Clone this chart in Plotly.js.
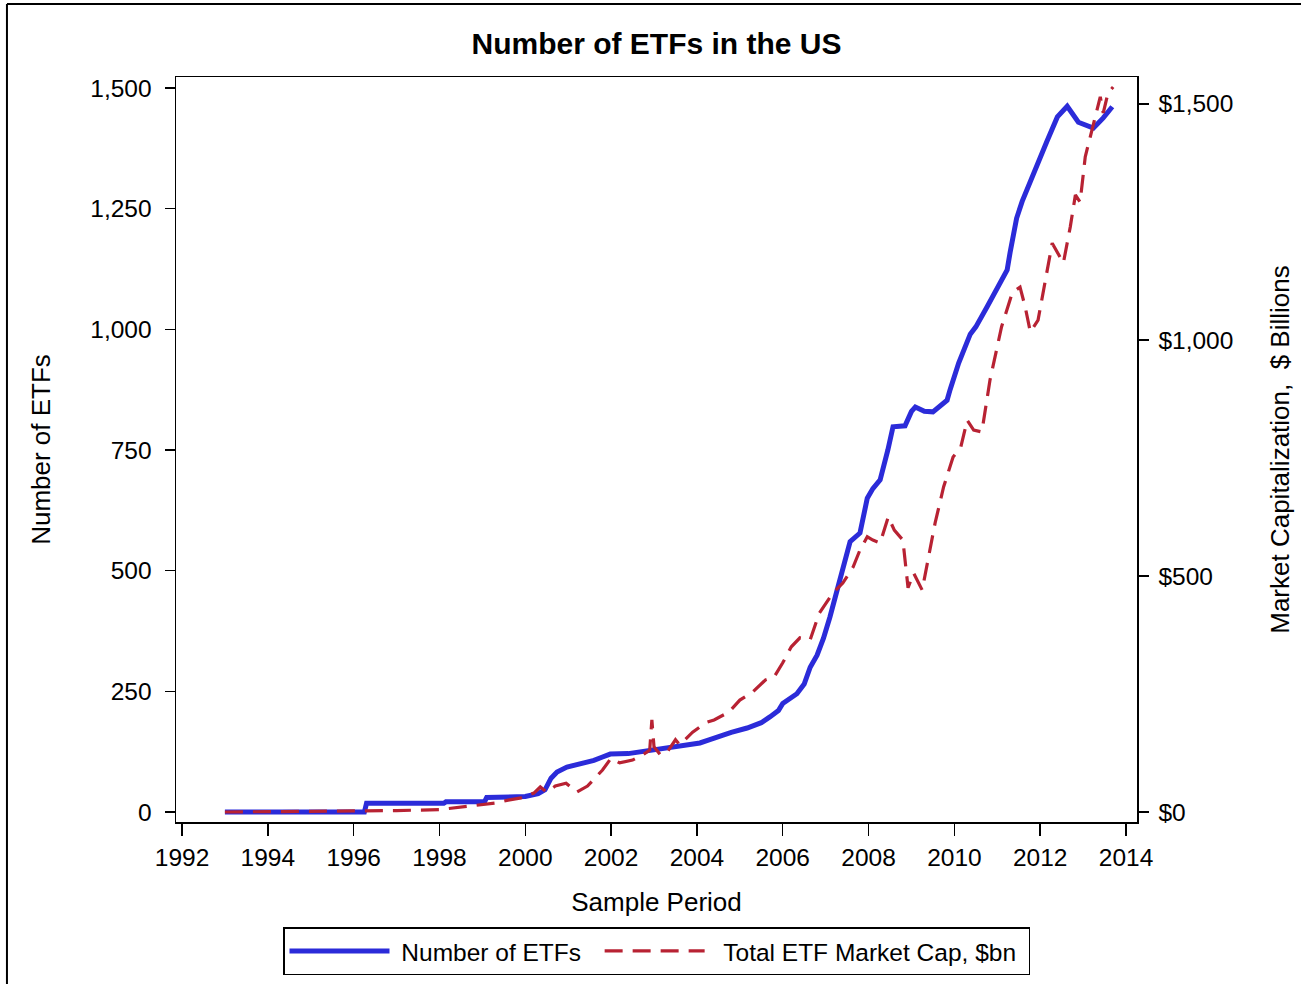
<!DOCTYPE html>
<html>
<head>
<meta charset="utf-8">
<script src="https://cdn.plot.ly/plotly-3.0.1.min.js"></script>
<style>html,body{margin:0;padding:0;background:#fff;}#chart{width:1301px;height:984px;}</style>
</head>
<body>
<div id="chart"></div>
<script>
// Number of ETFs (left axis)
const etfDates = [1993.0,1996.25,1996.3,1998.1,1998.15,1999.05,1999.1,2000.0,2000.3,2000.46,2000.6,2000.74,2000.97,2001.3,2001.6,2001.8,2001.98,2002.4,2002.74,2003.0,2003.3,2003.7,2004.07,2004.3,2004.46,2004.8,2005.17,2005.5,2005.7,2005.9,2006.0,2006.17,2006.33,2006.5,2006.64,2006.8,2006.95,2007.1,2007.29,2007.45,2007.57,2007.8,2007.97,2008.1,2008.27,2008.45,2008.57,2008.85,2009.0,2009.09,2009.3,2009.5,2009.7,2009.83,2009.9,2010.1,2010.37,2010.5,2010.76,2010.9,2011.1,2011.23,2011.3,2011.45,2011.58,2011.8,2012.0,2012.16,2012.4,2012.63,2012.89,2013.24,2013.47,2013.68];
const etfCount = [0,0,18,18,21,21,30,32,38,46,70,83,93,100,107,114,120,121,125,128,134,138,143,150,155,165,174,185,197,210,225,234,245,265,300,325,360,404,466,520,560,578,650,670,688,750,798,800,830,839,830,829,845,853,875,930,990,1005,1046,1070,1100,1123,1160,1230,1265,1310,1351,1390,1440,1462,1429,1417,1438,1461];

// Total ETF market cap, $bn (right axis)
const capDates = [1993.0,1996.0,1997.0,1998.0,1998.5,1999.0,1999.3,1999.6,1999.9,2000.2,2000.35,2000.5,2000.7,2000.95,2001.2,2001.45,2001.8,2002.0,2002.2,2002.5,2002.74,2002.9,2002.95,2003.0,2003.15,2003.3,2003.5,2003.6,2003.9,2004.2,2004.4,2004.75,2005.0,2005.3,2005.6,2005.8,2006.0,2006.2,2006.4,2006.64,2006.85,2007.17,2007.4,2007.64,2007.8,2007.97,2008.1,2008.27,2008.46,2008.6,2008.8,2008.92,2009.05,2009.25,2009.4,2009.55,2009.75,2009.97,2010.15,2010.3,2010.45,2010.64,2010.83,2011.1,2011.35,2011.53,2011.65,2011.77,2011.95,2012.16,2012.28,2012.54,2012.7,2012.82,2012.93,2013.05,2013.24,2013.4,2013.47,2013.58,2013.7];
const capValues = [0,1,3,5,10,15,19,25,30,40,53,42,55,61,42,55,89,114,104,110,121,131,195,138,121,126,153,142,169,189,195,212,237,254,280,286,316,350,369,365,421,464,485,519,555,583,576,570,625,597,576,475,506,470,540,612,689,752,773,830,809,805,915,1028,1100,1112,1070,1017,1042,1142,1205,1163,1239,1307,1292,1388,1460,1515,1481,1523,1536];

const xTicks = [1992,1994,1996,1998,2000,2002,2004,2006,2008,2010,2012,2014];
const leftTicks = [0,250,500,750,1000,1250,1500];
const leftTickText = ['0','250','500','750','1,000','1,250','1,500'];
const rightTicks = [0,500,1000,1500];
const rightTickText = ['$0','$500','$1,000','$1,500'];

const font = 'Liberation Sans, Arial, sans-serif';
const tickSize = 24.5;
const titleSize = 26;
const NB = '\u00a0';

const traces = [
  {x: etfDates, y: etfCount, type: 'scatter', mode: 'lines', name: NB + 'Number of ETFs' + NB + NB,
   line: {color: '#2b2bd9', width: 5}, yaxis: 'y'},
  {x: capDates, y: capValues, type: 'scatter', mode: 'lines', name: NB + NB + 'Total ETF Market Cap, $bn' + NB,
   line: {color: '#b82233', width: 3.2, dash: '18px,10px'}, yaxis: 'y2'}
];

const layout = {
  width: 1301, height: 984,
  margin: {l: 176, r: 164, t: 77, b: 162},
  paper_bgcolor: '#fff', plot_bgcolor: '#fff',
  font: {family: font, color: '#000', size: tickSize},
  title: {text: '<b>Number of ETFs in the US</b>', x: 0.5, xref: 'paper', y: 0.956, yanchor: 'middle',
          font: {family: font, size: 30, color: '#000'}},
  showlegend: true,
  legend: {orientation: 'h', x: 0.5, xanchor: 'center', xref: 'paper', y: 0.0579, yref: 'container', yanchor: 'top',
           bordercolor: '#000', borderwidth: 1.5, font: {family: font, size: tickSize, color: '#000'},
           itemwidth: 100, tracegroupgap: 0},
  xaxis: {range: [1991.86, 2014.256], tickvals: xTicks, ticktext: xTicks.map(String), automargin: false,
          showgrid: false, zeroline: false, showline: true, linecolor: '#000', linewidth: 1.5,
          mirror: true, ticks: 'outside', ticklen: 12, tickwidth: 1.5, tickcolor: '#000',
          ticklabelstandoff: 1,
          tickfont: {family: font, size: tickSize, color: '#000'},
          title: {text: 'Sample Period', font: {family: font, size: titleSize, color: '#000'}, standoff: 23}},
  yaxis: {range: [-20.7, 1522.7], tickvals: leftTicks, ticktext: leftTickText, automargin: false,
          showgrid: false, zeroline: false, showline: true, linecolor: '#000', linewidth: 1.5,
          mirror: true, ticks: 'outside', ticklen: 10, tickwidth: 1.5, tickcolor: '#000',
          ticklabelstandoff: 8,
          tickfont: {family: font, size: tickSize, color: '#000'},
          title: {text: 'Number of ETFs', font: {family: font, size: titleSize, color: '#000'}, standoff: 32}},
  yaxis2: {range: [-21.2, 1557], tickvals: rightTicks, ticktext: rightTickText, overlaying: 'y', side: 'right', automargin: false,
          showgrid: false, zeroline: false, showline: true, linecolor: '#000', linewidth: 1.5,
          ticks: 'outside', ticklen: 10, tickwidth: 1.5, tickcolor: '#000',
          ticklabelstandoff: 5,
          tickfont: {family: font, size: tickSize, color: '#000'},
          title: {text: 'Market Capitalization,  $ Billions', font: {family: font, size: titleSize, color: '#000'}, standoff: 38}},
  shapes: [
    {type: 'line', xref: 'paper', yref: 'paper', x0: -0.1759, x1: 1.2, y0: 1.098, y1: 1.098, line: {color: '#000', width: 2}},
    {type: 'line', xref: 'paper', yref: 'paper', x0: -0.1759, x1: -0.1759, y0: 1.098, y1: -0.25, line: {color: '#000', width: 2}}
  ]
};

Plotly.newPlot('chart', traces, layout, {displayModeBar: false, staticPlot: true});
</script>
</body>
</html>
